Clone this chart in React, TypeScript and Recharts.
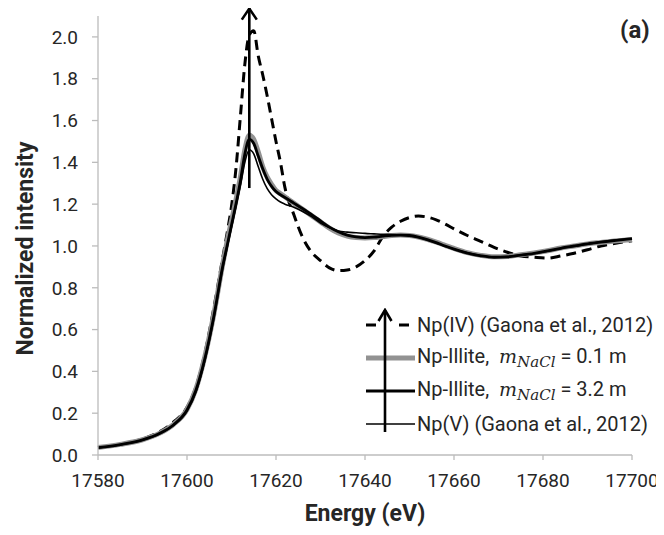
import { LineChart, Line, XAxis, YAxis, ReferenceLine, Label } from 'recharts';

const energy = [
  17580, 17585, 17590, 17594, 17597, 17600, 17602, 17604, 17606, 17608, 17609, 17610, 17611, 17612,
  17613, 17614, 17615, 17616, 17617, 17618, 17619, 17620, 17621, 17622, 17624, 17626, 17628, 17630,
  17632, 17634, 17636, 17638, 17640, 17642, 17644, 17646, 17648, 17650, 17652, 17654, 17656, 17658,
  17660, 17663, 17666, 17669, 17672, 17675, 17678, 17681, 17684, 17687, 17690, 17693, 17696, 17700,
];

const npIV = [
  0.036, 0.052, 0.077, 0.113, 0.158, 0.228, 0.325, 0.485, 0.70, 0.94, 1.06, 1.19, 1.37, 1.62,
  1.87, 2.01, 2.03, 1.91, 1.82, 1.72, 1.61, 1.50, 1.40, 1.28, 1.15, 1.04, 0.97, 0.93,
  0.895, 0.882, 0.885, 0.90, 0.93, 0.975, 1.045, 1.09, 1.118, 1.136, 1.143, 1.138, 1.125, 1.105,
  1.082, 1.05, 1.022, 0.993, 0.97, 0.952, 0.946, 0.942, 0.952, 0.965, 0.982, 1.0, 1.012, 1.025,
];

const illite01 = [
  0.036, 0.051, 0.073, 0.106, 0.147, 0.218, 0.315, 0.47, 0.67, 0.91, 1.02, 1.12, 1.22, 1.33,
  1.46, 1.53, 1.51, 1.45, 1.38, 1.33, 1.295, 1.265, 1.25, 1.235, 1.205, 1.175, 1.145, 1.115,
  1.085, 1.062, 1.047, 1.04, 1.038, 1.04, 1.045, 1.05, 1.052, 1.05, 1.043, 1.032, 1.018, 1.003,
  0.988, 0.968, 0.955, 0.948, 0.95, 0.958, 0.966, 0.977, 0.99, 1.0, 1.01, 1.017, 1.024, 1.03,
];

const illite32 = [
  0.035, 0.05, 0.072, 0.105, 0.145, 0.215, 0.31, 0.46, 0.66, 0.90, 1.0, 1.10, 1.20, 1.31,
  1.44, 1.51, 1.49, 1.43, 1.37, 1.32, 1.285, 1.26, 1.245, 1.232, 1.205, 1.178, 1.15, 1.12,
  1.09, 1.068, 1.052, 1.043, 1.04, 1.042, 1.047, 1.051, 1.052, 1.05, 1.042, 1.03, 1.016, 1.0,
  0.985, 0.966, 0.953, 0.946, 0.948, 0.956, 0.965, 0.976, 0.989, 1.0, 1.01, 1.018, 1.025, 1.035,
];

const npV = [
  0.034, 0.049, 0.071, 0.103, 0.142, 0.21, 0.30, 0.45, 0.65, 0.89, 0.99, 1.09, 1.19, 1.29,
  1.40, 1.46, 1.44, 1.38, 1.32, 1.275, 1.245, 1.225, 1.21, 1.20, 1.185, 1.165, 1.14, 1.11,
  1.088, 1.072, 1.066, 1.063, 1.06, 1.058, 1.056, 1.055, 1.053, 1.049, 1.04, 1.028, 1.014, 0.999,
  0.985, 0.967, 0.954, 0.947, 0.949, 0.957, 0.964, 0.975, 0.988, 0.998, 1.008, 1.02, 1.028, 1.033,
];

const energyTicks = [17580, 17600, 17620, 17640, 17660, 17680, 17700];
const intensityTicks = [0, 0.2, 0.4, 0.6, 0.8, 1.0, 1.2, 1.4, 1.6, 1.8, 2.0];

// arrow drawn over the white line
const arrowEnergy = 17614;
const arrowFrom = 1.277;
const arrowTo = 2.14;

const data = energy.map((e, i) => ({
  energy: e,
  npIV: npIV[i],
  illite01: illite01[i],
  illite32: illite32[i],
  npV: npV[i],
}));

const FONT = 'Roboto, "Liberation Sans", sans-serif';
const AXIS = '#bcbcbc';
const TEXT = '#262626';

const Arrow = (props: any) => {
  const { x1, y1, x2, y2 } = props;
  const top = Math.min(y1, y2);
  const bottom = Math.max(y1, y2);
  return (
    <g>
      <line x1={x1} y1={bottom} x2={x2} y2={top} stroke="#000" strokeWidth={2.6} />
      <path
        d={`M${x1 - 7.5},${top + 12} L${x1},${top + 1} L${x1 + 7.5},${top + 12}`}
        fill="none"
        stroke="#000"
        strokeWidth={2.6}
      />
    </g>
  );
};

const MathM = ({ sub }: { sub: string }) => (
  <span style={{ fontFamily: '"DejaVu Serif", serif', fontStyle: 'italic', fontSize: 19 }}>
    m<sub style={{ fontSize: 15, verticalAlign: '-4px' }}>{sub}</sub>
  </span>
);

const legendRows = [
  { key: 'npIV', stroke: '#000', width: 3, dash: '10 23', label: <>Np(IV) (Gaona et al., 2012)</> },
  { key: 'illite01', stroke: '#929292', width: 5, dash: undefined, label: <>Np-Illite,&nbsp; <MathM sub="NaCl" /> = 0.1 m</> },
  { key: 'illite32', stroke: '#000', width: 3, dash: undefined, label: <>Np-Illite,&nbsp; <MathM sub="NaCl" /> = 3.2 m</> },
  { key: 'npV', stroke: '#000', width: 1.6, dash: undefined, label: <>Np(V) (Gaona et al., 2012)</> },
];

const ChartLegend = () => (
  <div
    style={{
      position: 'absolute',
      left: 358,
      top: 300,
      fontFamily: FONT,
      fontSize: 20,
      color: TEXT,
      lineHeight: 1,
    }}
  >
    {legendRows.map((r) => (
      <div key={r.key} style={{ display: 'flex', alignItems: 'center', height: 33, whiteSpace: 'nowrap' }}>
        <svg width={51} height={10} style={{ flex: 'none' }}>
          <line x1={0} y1={5} x2={49} y2={5} stroke={r.stroke} strokeWidth={r.width} strokeDasharray={r.dash} />
        </svg>
        <span>{r.label}</span>
      </div>
    ))}
    <svg width={40} height={128} style={{ position: 'absolute', left: 0, top: 0 }}>
      <line x1={19} y1={124} x2={19} y2={2} stroke="#000" strokeWidth={2.6} />
      <path d="M12.5,13 L19,2 L25.5,13" fill="none" stroke="#000" strokeWidth={2.6} />
    </svg>
  </div>
);

export default function App() {
  return (
    <div style={{ position: 'relative', width: 656, height: 527, fontFamily: FONT }}>
      <LineChart width={656} height={527} data={data} margin={{ top: 8, right: 32, left: 30, bottom: 20 }}>
        <XAxis
          type="number"
          dataKey="energy"
          domain={[17580, 17700]}
          ticks={energyTicks}
          stroke={AXIS}
          strokeWidth={1.3}
          tickSize={5}
          tickMargin={14}
          height={60}
          tick={{ fill: TEXT, fontSize: 19, fontFamily: FONT }}
        >
          <Label
            content={(p: any) => {
              const vb = p.viewBox || { x: 90, y: 447, width: 534 };
              return (
                <text
                  x={vb.x + vb.width / 2}
                  y={vb.y + 66}
                  textAnchor="middle"
                  fontSize={23}
                  fontWeight="bold"
                  fill={TEXT}
                  fontFamily={FONT}
                >
                  Energy (eV)
                </text>
              );
            }}
          />
        </XAxis>
        <YAxis
          type="number"
          domain={[0, 2.1]}
          ticks={intensityTicks}
          stroke={AXIS}
          strokeWidth={1.3}
          tickSize={6}
          tickMargin={14}
          width={60}
          tickFormatter={(v: number) => v.toFixed(1)}
          tick={{ fill: TEXT, fontSize: 19, fontFamily: FONT }}
        >
          <Label
            content={(p: any) => {
              const vb = p.viewBox || { x: 30, y: 8, height: 439 };
              const cx = vb.x - 13;
              const cy = vb.y + vb.height / 2 + 13;
              return (
                <text
                  x={cx}
                  y={cy}
                  transform={`rotate(-90, ${cx}, ${cy})`}
                  textAnchor="middle"
                  dominantBaseline="central"
                  fontSize={23}
                  fontWeight="bold"
                  fill={TEXT}
                  fontFamily={FONT}
                >
                  Normalized intensity
                </text>
              );
            }}
          />
        </YAxis>
        <Line type="monotone" dataKey="npIV" stroke="#000" strokeWidth={3} strokeDasharray="10 6" dot={false} isAnimationActive={false} />
        <Line type="monotone" dataKey="illite01" stroke="#929292" strokeWidth={5} dot={false} isAnimationActive={false} />
        <Line type="monotone" dataKey="illite32" stroke="#000" strokeWidth={2.8} dot={false} isAnimationActive={false} />
        <Line type="monotone" dataKey="npV" stroke="#000" strokeWidth={1.6} dot={false} isAnimationActive={false} />
        <ReferenceLine
          segment={[
            { x: arrowEnergy, y: arrowFrom },
            { x: arrowEnergy, y: arrowTo },
          ]}
          ifOverflow="visible"
          shape={Arrow}
        />
      </LineChart>
      <ChartLegend />
      <div
        style={{
          position: 'absolute',
          left: 612,
          top: 8,
          fontFamily: FONT,
          fontSize: 24,
          fontWeight: 'bold',
          color: TEXT,
        }}
      >
        (a)
      </div>
    </div>
  );
}
